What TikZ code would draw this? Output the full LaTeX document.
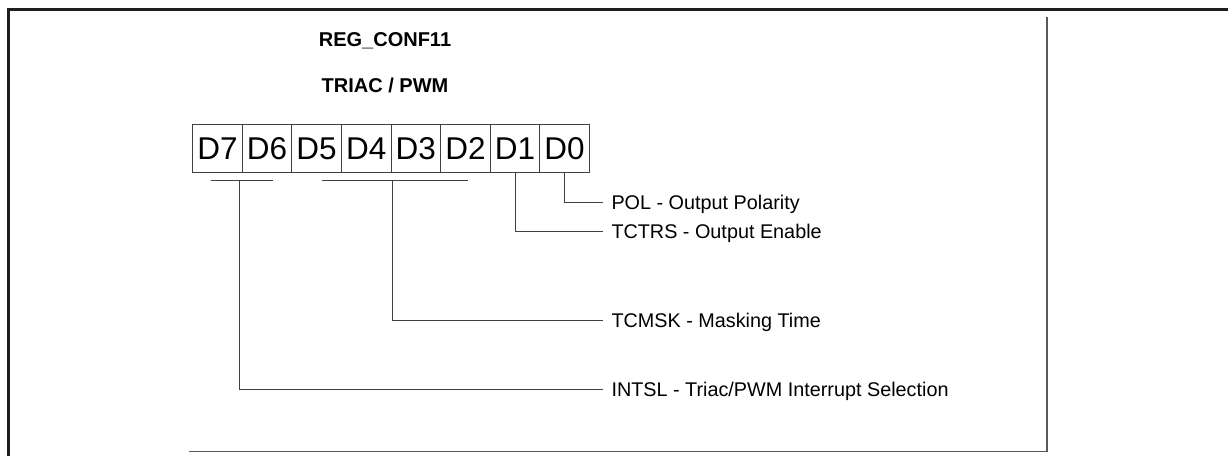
\documentclass[tikz,border=0pt]{standalone}
\usepackage{fontspec}
\setmainfont{Liberation Sans}

\begin{document}
\begin{tikzpicture}[x=1pt,y=-1pt,line width=1pt,
    bitcell/.style={draw=black!75,minimum width=49.6pt,minimum height=48.5pt,inner sep=0pt,
                    text height=22.4pt,text depth=0pt,font=\fontsize{31.5}{32}\selectfont},
    lbl/.style={anchor=west,inner xsep=8pt,inner ysep=0pt,text height=14.2pt,text depth=0pt,
                font=\fontsize{19.8}{22}\selectfont},
    head/.style={font=\bfseries\fontsize{20}{22}\selectfont}]
  \def\W{49.6}   % width of one bit cell
  \useasboundingbox (0,0) rectangle (1228,456);
  \draw[line width=3pt,black!88] (1228,9) -- (8,9) -- (8,456);            % outer frame
  \draw[line width=1.5pt,black!65] (1047,17) -- (1047,451.5) -- (189,451.5); % inner frame
  \node[head] (reg)  at (385,41) {REG\_CONF11};
  \node[head] (mode) at (385,85) {TRIAC / PWM};
  \foreach \bit [count=\i from 0] in {7,6,...,0}
    \node[bitcell] (d\bit) at ({192.6+\W*(\i+0.5)},148.3) {D\bit};
  \node[lbl] (pol)   at (603,202) {POL - Output Polarity};
  \node[lbl] (tctrs) at (603,231) {TCTRS - Output Enable};
  \node[lbl] (tcmsk) at (603,320) {TCMSK - Masking Time};
  \node[lbl] (intsl) at (603,389) {INTSL - Triac/PWM Interrupt Selection};
  \begin{scope}[draw=black!75]
    \coordinate (hi)  at (239.3,180.5);   % D7..D6
    \coordinate (mid) at (392,180.5);     % D5..D2
    \draw (211,180.5) -- (273,180.5);
    \draw (322,180.5) -- (468,180.5);
    \draw (d0.south) |- (pol.west);
    \draw (d1.south) |- (tctrs.west);
    \draw (mid) |- (tcmsk.west);
    \draw (hi) |- (intsl.west);
  \end{scope}
\end{tikzpicture}
\end{document}
